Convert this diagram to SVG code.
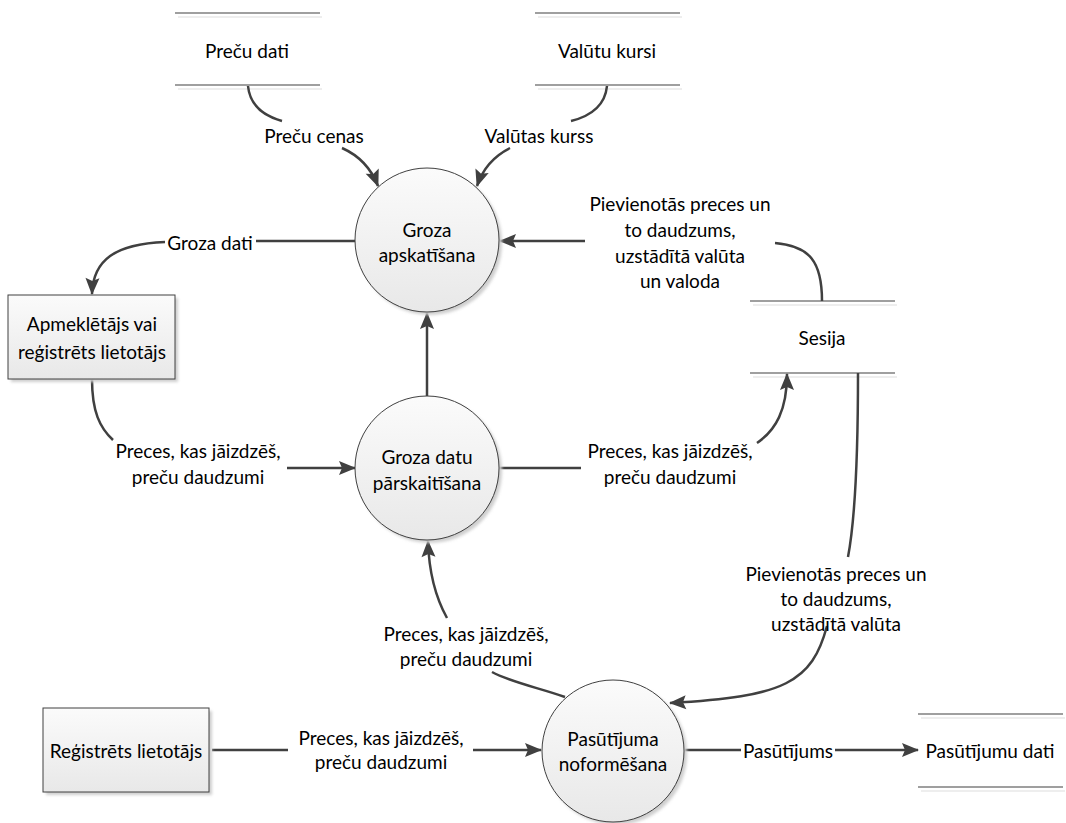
<svg xmlns="http://www.w3.org/2000/svg" width="1066" height="823" viewBox="0 0 1066 823">
<style>
text{font-family:Lato,"Liberation Sans",sans-serif;font-size:19px;fill:#000;text-anchor:middle;dominant-baseline:central}
.conn{fill:none;stroke:#404040;stroke-width:2.5}
.store{stroke:#7f7f7f;stroke-width:1.5}
.storesh{stroke:#e8e8e8;stroke-width:1.5}
.proc{fill:url(#g);stroke:#404040;stroke-width:1}
.sh{fill:#cfcfcf;filter:url(#blur)}
</style>
<defs>
<linearGradient id="g" x1="0" y1="0" x2="0" y2="1"><stop offset="0" stop-color="#fbfbfb"/><stop offset="1" stop-color="#e8e8e8"/></linearGradient>
<filter id="blur" x="-20%" y="-20%" width="140%" height="140%"><feGaussianBlur stdDeviation="1.5"/></filter>
<marker id="arr" markerUnits="userSpaceOnUse" markerWidth="20" markerHeight="16" refX="16" refY="7" orient="auto" overflow="visible"><path d="M0,0 L17,7 L0,14 L3,7 z" fill="#404040"/></marker>
</defs>
<g id="store-precu-dati">
<line class="storesh" x1="178" y1="17" x2="322" y2="17"/><line class="storesh" x1="178" y1="89" x2="322" y2="89"/>
<line class="store" x1="175" y1="13" x2="320" y2="13"/><line class="store" x1="175" y1="85" x2="320" y2="85"/>
<text x="247" y="50">Preču dati</text>
</g>
<g id="store-valutu-kursi">
<line class="storesh" x1="538" y1="17" x2="682" y2="17"/><line class="storesh" x1="538" y1="89" x2="682" y2="89"/>
<line class="store" x1="535" y1="13" x2="680" y2="13"/><line class="store" x1="535" y1="85" x2="680" y2="85"/>
<text x="607" y="50">Valūtu kursi</text>
</g>
<g id="store-sesija">
<line class="storesh" x1="753" y1="305" x2="897" y2="305"/><line class="storesh" x1="753" y1="377" x2="897" y2="377"/>
<line class="store" x1="750" y1="301" x2="895" y2="301"/><line class="store" x1="750" y1="373" x2="895" y2="373"/>
<text x="822" y="337">Sesija</text>
</g>
<g id="store-pasutijumu-dati">
<line class="storesh" x1="921" y1="718" x2="1065" y2="718"/><line class="storesh" x1="921" y1="791" x2="1065" y2="791"/>
<line class="store" x1="918" y1="714" x2="1063" y2="714"/><line class="store" x1="918" y1="787" x2="1063" y2="787"/>
<text x="990" y="750">Pasūtījumu dati</text>
</g>
<g id="connectors">
<path class="conn" d="M248,86 C250,106 264,116 282,121"/>
<path class="conn" d="M342,148 C360,156 371,168 378,186" marker-end="url(#arr)"/>
<path class="conn" d="M607,86 C605,106 591,116 571,121"/>
<path class="conn" d="M510,148 C494,156 483,168 477,186" marker-end="url(#arr)"/>
<path class="conn" d="M355,241 L256,241"/>
<path class="conn" d="M165,242 C115,244 93,260 92,294" marker-end="url(#arr)"/>
<path class="conn" d="M822,301 C822,262 810,246 775,243"/>
<path class="conn" d="M585,241 L500,241" marker-end="url(#arr)"/>
<path class="conn" d="M427,396 L427,313" marker-end="url(#arr)"/>
<path class="conn" d="M92,379 C92,412 100,428 113,440"/>
<path class="conn" d="M287,468 L355,468" marker-end="url(#arr)"/>
<path class="conn" d="M499,468 L581,468"/>
<path class="conn" d="M757,443 C776,430 787,410 787,374" marker-end="url(#arr)"/>
<path class="conn" d="M858,373 C858,450 855,520 848,557"/>
<path class="conn" d="M827,626 C812,682 785,697 670,703" marker-end="url(#arr)"/>
<path class="conn" d="M565,697 C540,688 510,682 492,672"/>
<path class="conn" d="M447,618 C437,600 429,575 428,541" marker-end="url(#arr)"/>
<path class="conn" d="M212,750 L288,750"/>
<path class="conn" d="M473,750 L541,750" marker-end="url(#arr)"/>
<path class="conn" d="M685,750 L741,750"/>
<path class="conn" d="M835,750 L918,750" marker-end="url(#arr)"/>
<text x="314" y="135">Preču cenas</text>
<text x="539" y="135">Valūtas kurss</text>
<text x="210" y="242">Groza dati</text>
<text x="680" y="203">Pievienotās preces un</text>
<text x="680" y="229">to daudzums,</text>
<text x="680" y="255">uzstādītā valūta</text>
<text x="680" y="280">un valoda</text>
<text x="198" y="450">Preces, kas jāizdzēš,</text>
<text x="198" y="476">preču daudzumi</text>
<text x="670" y="450">Preces, kas jāizdzēš,</text>
<text x="670" y="476">preču daudzumi</text>
<text x="836" y="573">Pievienotās preces un</text>
<text x="836" y="598">to daudzums,</text>
<text x="836" y="623">uzstādītā valūta</text>
<text x="466" y="633">Preces, kas jāizdzēš,</text>
<text x="466" y="658">preču daudzumi</text>
<text x="381" y="737">Preces, kas jāizdzēš,</text>
<text x="381" y="761">preču daudzumi</text>
<text x="788" y="750">Pasūtījums</text>
</g>
<g id="proc-groza-apskatisana">
<circle class="sh" cx="430" cy="243" r="72"/>
<circle class="proc" cx="427" cy="240" r="72"/>
<text x="427" y="229">Groza</text>
<text x="427" y="254">apskatīšana</text>
</g>
<g id="proc-groza-datu-parskaitisana">
<circle class="sh" cx="430" cy="471" r="72"/>
<circle class="proc" cx="427" cy="468" r="72"/>
<text x="427" y="456">Groza datu</text>
<text x="427" y="482">pārskaitīšana</text>
</g>
<g id="proc-pasutijuma-noformesana">
<circle class="sh" cx="616" cy="754" r="71"/>
<circle class="proc" cx="613" cy="751" r="71"/>
<text x="613" y="738">Pasūtījuma</text>
<text x="613" y="763">noformēšana</text>
</g>
<g id="ent-apmekletajs">
<rect class="sh" x="11" y="298" width="167" height="84"/>
<rect class="proc" x="8" y="295" width="167" height="84"/>
<text x="92" y="323">Apmeklētājs vai</text>
<text x="92" y="351">reģistrēts lietotājs</text>
</g>
<g id="ent-registrets">
<rect class="sh" x="46" y="711" width="166" height="84"/>
<rect class="proc" x="43" y="708" width="166" height="84"/>
<text x="126" y="750">Reģistrēts lietotājs</text>
</g>
</svg>
